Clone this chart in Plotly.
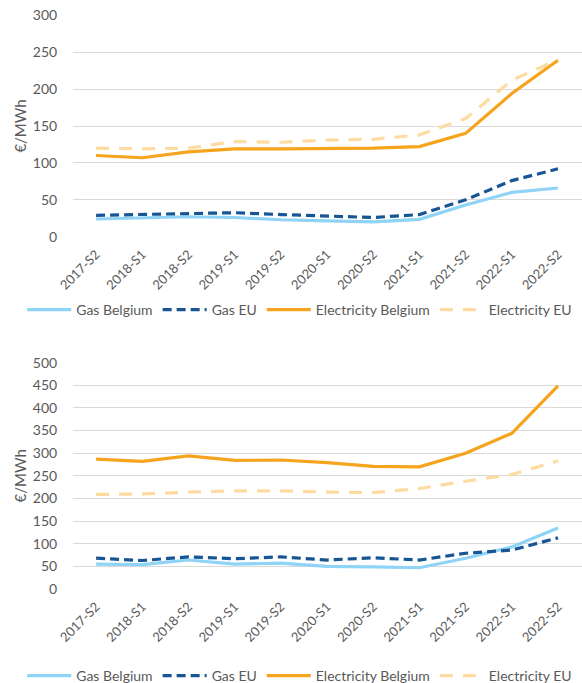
import plotly.graph_objects as go

categories = ["2017-S2", "2018-S1", "2018-S2", "2019-S1", "2019-S2", "2020-S1",
              "2020-S2", "2021-S1", "2021-S2", "2022-S1", "2022-S2"]

# Top chart
gas_be_top = [24, 25, 27, 26, 23, 21.5, 20, 23.5, 43, 60, 66]
gas_eu_top = [29, 30, 32, 32.5, 30, 28, 26, 30, 50, 76, 92]
elec_be_top = [110, 107, 115, 119, 119, 119, 120, 122, 140, 194, 239]
elec_eu_top = [120, 119, 120, 129, 128, 131, 132, 138, 160, 212, 240]

# Bottom chart
gas_be_bot = [55, 54, 64, 55, 57, 50, 49, 47, 68, 93, 135]
gas_eu_bot = [68, 63, 71, 67, 71, 64, 69, 64, 79, 86, 113]
elec_be_bot = [287, 282, 294, 284, 285, 279, 271, 270, 300, 344, 449]
elec_eu_bot = [209, 210, 214, 217, 217, 214, 213, 222, 238, 253, 283]

series_names = ["Gas Belgium", "Gas EU", "Electricity Belgium", "Electricity EU"]
colors = ["#8fd4f6", "#175594", "#f6a41d", "#fedba0"]
dashes = ["solid", "9px,5px", "solid", "13px,10px"]

FONT = "Lato, 'Open Sans', sans-serif"
GRAY = "#595959"

fig = go.Figure()

top_sets = [gas_be_top, gas_eu_top, elec_be_top, elec_eu_top]
bot_sets = [gas_be_bot, gas_eu_bot, elec_be_bot, elec_eu_bot]

for name, vals, c, d in zip(series_names, top_sets, colors, dashes):
    fig.add_trace(go.Scatter(x=categories, y=vals, name=name, mode="lines",
                             line=dict(color=c, width=3.2, dash=d),
                             xaxis="x", yaxis="y", legend="legend"))
for name, vals, c, d in zip(series_names, bot_sets, colors, dashes):
    fig.add_trace(go.Scatter(x=categories, y=vals, name=name, mode="lines",
                             line=dict(color=c, width=3.2, dash=d),
                             xaxis="x2", yaxis="y2", legend="legend2"))

H = 683
W = 582

def ydom(y0px, y1px):
    return [1 - y0px / H, 1 - y1px / H]

xdom = [73 / W, 1.0]

xaxis_common = dict(
    type="category", range=[-0.5, 10.52], domain=xdom, automargin=False,
    tickangle=-45, showgrid=False, zeroline=False, showline=False,
    ticks="outside", ticklen=4, tickcolor="rgba(0,0,0,0)",
    tickfont=dict(family=FONT, size=13, color=GRAY),
)
yaxis_common = dict(
    showgrid=True, gridcolor="#d9d9d9", gridwidth=1, zeroline=False, automargin=False,
    showline=False, ticks="outside", ticklen=12, tickcolor="rgba(0,0,0,0)",
    tickfont=dict(family=FONT, size=14, color=GRAY),
    title=dict(text="€/MWh", font=dict(family=FONT, size=15, color=GRAY), standoff=2),
)

legend_common = dict(orientation="h", x=0.515, xanchor="center", yanchor="middle",
                     itemwidth=44, font=dict(family=FONT, size=14, color=GRAY),
                     bgcolor="rgba(0,0,0,0)")

fig.update_layout(
    width=W, height=H,
    margin=dict(l=0, r=0, t=0, b=0, autoexpand=False),
    paper_bgcolor="white", plot_bgcolor="white",
    font=dict(family=FONT, color=GRAY),
    xaxis=dict(**xaxis_common, anchor="y"),
    yaxis=dict(**yaxis_common, domain=ydom(236.7, 15.3), range=[0, 300],
               tickvals=[0, 50, 100, 150, 200, 250, 300], anchor="x"),
    xaxis2=dict(**xaxis_common, anchor="y2"),
    yaxis2=dict(**yaxis_common, domain=ydom(589, 362.7), range=[0, 500],
                tickvals=[0, 50, 100, 150, 200, 250, 300, 350, 400, 450, 500], anchor="x2"),
    legend=dict(**legend_common, y=1 - 310 / H),
    legend2=dict(**legend_common, y=1 - 676 / H),
    showlegend=True,
)

fig.write_html("out.html", config={"displayModeBar": False},
               post_script="document.body.style.margin='0';document.body.style.overflow='hidden';")
